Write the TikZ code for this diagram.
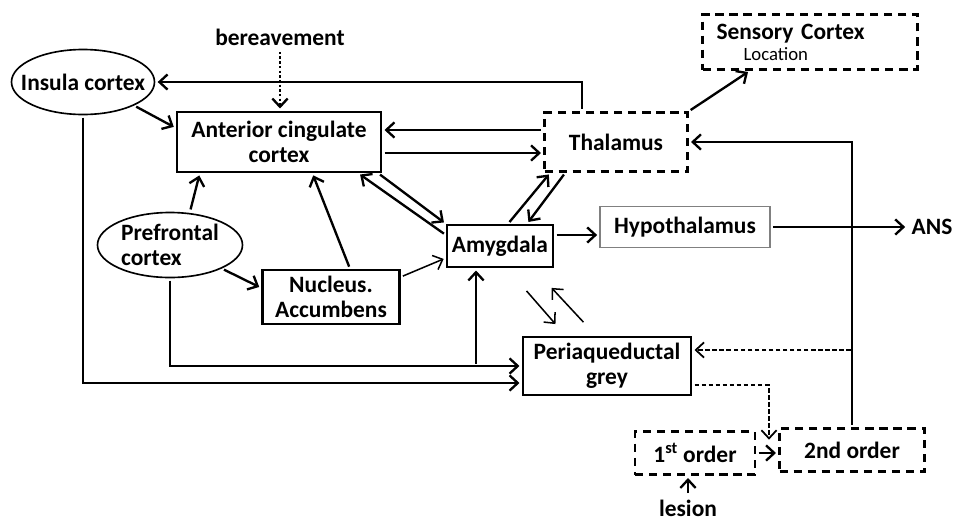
\documentclass[tikz,border=0pt]{standalone}
\usepackage{fontspec}
\setmainfont{Carlito}
\usetikzlibrary{arrows.meta,shapes.geometric}
\tikzset{
  every node/.style={font=\bfseries\fontsize{20}{21}\selectfont},
  box/.style={draw, line width=2pt, align=center, inner sep=0pt},
  dbox/.style={box, dash pattern=on 7pt off 5pt},
  oval/.style={draw, ellipse, line width=1.4pt, inner sep=0pt},
  link/.style={->, line width=2pt, shorten >=2pt, shorten <=2pt},
  thinlink/.style={link, line width=1.3pt},
}
\begin{document}
\begin{tikzpicture}[>={Straight Barb[length=7pt,width=13pt]}, x=0.03cm, y=-0.03cm]
  \fill[white] (0,0) rectangle (955,524);
  \useasboundingbox (0,0) rectangle (955,524);
  % regions
  \node[oval, minimum width=4.29cm, minimum height=1.95cm] (ins) at (83,82) {\makebox[0pt]{Insula cortex}};
  \node (ber) at (280,37) {bereavement};
  \node[box, minimum width=6.12cm, minimum height=1.8cm] (acc) at (279,142) {Anterior cingulate\\cortex};
  \node[dbox, minimum width=4.29cm, minimum height=1.77cm] (thal) at (616,142) {Thalamus};
  \node[dbox, minimum width=6.45cm, minimum height=1.65cm, text width=5.61cm, align=left] (sens) at (810,42)
    {Sensory Cortex\\[-3pt]\hspace*{0.81cm}{\mdseries\fontsize{16}{17}\selectfont Location}};
  \node[oval, minimum width=4.35cm, minimum height=1.95cm, align=left] (pfc) at (170,245) {Prefrontal\\cortex};
  \node[box, minimum width=4.11cm, minimum height=1.62cm] (nac) at (331,297) {Nucleus.\\Accumbens};
  \node[box, minimum width=3.18cm, minimum height=1.26cm] (amy) at (500,246) {Amygdala};
  \node[box, draw=gray, line width=0.9pt, minimum width=5.1cm, minimum height=1.23cm] (hyp) at (685,227) {Hypothalamus};
  \node (ans) at (932,227) {ANS};
  \node[box, minimum width=5.04cm, minimum height=1.74cm] (pag) at (607,366) {Periaqueductal\\grey};
  \node[dbox, minimum width=3.6cm, minimum height=1.29cm] (first) at (695,453) {1\textsuperscript{st} order};
  \node[dbox, minimum width=4.35cm, minimum height=1.29cm] (second) at (852,450) {2nd order};
  \node (lesion) at (688,508) {lesion};
  \coordinate (pj) at (853,350);
  \coordinate (gp) at (769,442);
  % connections
  \draw[link] ([xshift=-1.02cm]thal.north) |- (ins.east);
  \draw[link, dotted] (ber.south) -- (ber.south |- acc.north);
  \draw[link] (ins.south east) -- ([yshift=0.42cm]acc.west);
  \draw[link] ([yshift=0.36cm]thal.west) -- ([yshift=0.36cm]acc.east);
  \draw[link] ([yshift=-0.33cm]acc.east) -- ([yshift=-0.33cm]thal.west);
  \draw[link] ([xshift=0.6cm]pfc.north) -- ([xshift=0.72cm]acc.south west);
  \draw[link] (pfc.south east) -- ([yshift=0.27cm]nac.west);
  \draw[link] ([xshift=0.57cm]nac.north) -- ([xshift=1cm]acc.south);
  \draw[thinlink] ([yshift=0.6cm]nac.east) -- ([yshift=-0.36cm]amy.west);
  \draw[link] ([xshift=-0.12cm]acc.south east) -- (amy.north west);
  \draw[link] ([yshift=0.33cm]amy.west) -- ([xshift=-0.72cm]acc.south east);
  \draw[link] ([xshift=0.24cm]amy.north) -- ([xshift=0.21cm]thal.south west);
  \draw[link] ([xshift=0.66cm]thal.south west) -- ([xshift=0.81cm]amy.north);
  \draw[link] ([yshift=0.33cm]amy.east) -- ([yshift=0.33cm]amy.east -| hyp.west);
  \draw[link] (hyp.east) -- (ans.west);
  \draw[thinlink] ([shift={(0.75cm,-0.63cm)}]amy.south) -- ([shift={(-1.5cm,0.3cm)}]pag.north);
  \draw[thinlink] ([shift={(-0.66cm,0.36cm)}]pag.north) -- ([shift={(1.5cm,-0.54cm)}]amy.south);
  \draw[link] (thal.north east) -- ([xshift=-1.8cm]sens.south);
  \draw[link] (second.north) |- (thal.east);
  \draw[link, line width=1.5pt, dash pattern=on 4pt off 2pt] (pj) -- (pj -| pag.east);
  \draw[link, line width=1.5pt, dash pattern=on 4pt off 2pt] ([yshift=-0.57cm]pag.east) -| (gp);
  \draw[link] (first.east) -- (first.east -| second.west);
  \draw[link] (lesion.north) -- (lesion.north |- first.south);
  \draw[link] (ins.south) |- ([yshift=-0.51cm]pag.west);
  \draw[link] (pfc.south) |- (pag.west);
  \draw[link] ([xshift=-0.72cm]amy.south |- pag.west) -- ([xshift=-0.72cm]amy.south);
\end{tikzpicture}
\end{document}
